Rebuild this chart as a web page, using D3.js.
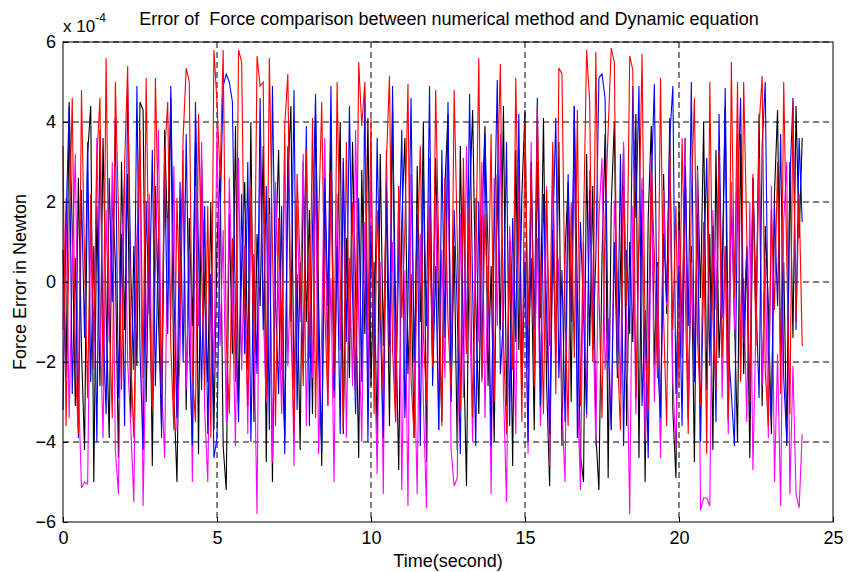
<!DOCTYPE html>
<html>
<head>
<meta charset="utf-8">
<script src="https://cdn.jsdelivr.net/npm/d3@7/dist/d3.min.js"></script>
<style>
  body { margin: 0; background: #fff; }
  text { font-family: "Liberation Sans", Arial, sans-serif; fill: #000; }
</style>
</head>
<body>
<div id="chart"></div>
<script>
// data, values in units of 10^-4 N, sampled every 0.1 s from 0 to 24 s
const timeStep = 0.1;
const redSeries = [
  3.4, -3.6, 1.2, 4.6, -2.1, -3.8, 4.8, 0.6, -2.9, 2.2,
  -1.5, 3.1, 4.6, -2.6, 5.6, -0.8, -3.4, 5.0, 1.8, -2.7,
  2.9, 5.4, -1.9, -3.9, 0.7, 3.8, -2.4, 5.1, -0.5, -3.2,
  5.1, 1.4, -2.8, 3.2, 4.5, -1.6, -3.7, 2.1, -0.9, 3.6,
  5.35, 5.0, -2.2, -3.5, 4.2, 0.3, -2.7, 1.9, -3.9, 5.8,
  4.5, 2.6, 5.8, -1.4, -3.3, 1.1, -2.5, 5.8, 5.5, -0.6,
  -3.1, 2.4, -1.8, 5.65, 4.9, 5.0, -2.9, 5.6, 0.9, -3.6,
  1.6, -2.2, 3.9, 5.2, -1.1, -3.8, 2.7, 0.4, -2.6, 3.3,
  -1.9, 4.1, -3.4, 1.5, 4.5, -0.7, -3.1, 2.8, -2.3, 5.0,
  0.2, -3.7, 3.5, -1.5, 2.0, -2.9, 5.5, 3.9, 5.0, -1.2,
  4.1, -3.3, 1.8, -0.4, -2.8, 3.0, 5.15, -1.7, -3.5, 2.4,
  -0.9, 1.3, 4.95, -2.4, -3.9, 0.5, 3.4, -1.3, -3.0, 1.9,
  -2.1, 4.8, 0.8, -3.6, 2.6, -1.0, -2.7, 4.8, 1.1, -3.2,
  3.1, -1.8, 2.2, -3.4, 0.4, 5.6, -2.5, 1.7, -0.8, 3.7,
  -3.0, 2.5, 5.45, -1.4, -3.8, 1.0, -2.2, 5.1, 0.6, -3.5,
  4.0, -1.1, 2.9, -2.6, 4.4, 0.1, -3.3, 2.3, -1.6, 3.5,
  -2.8, 5.35, 5.2, -0.7, -3.6, 2.0, -1.9, 4.3, -3.1, 1.4,
  5.8, 4.5, -2.0, 5.75, -0.3, -3.4, 1.6, 3.8, 5.85, 5.5,
  -1.8, -3.7, 2.4, -0.6, 5.65, 5.3, -2.9, 1.3, 5.7, -1.5,
  -3.2, 2.8, 0.7, -2.4, 5.1, -0.9, -3.6, 3.2, -1.2, 1.9,
  -2.6, 3.6, -0.2, -3.8, 2.1, 4.6, -1.4, -3.1, 1.5, -4.3,
  5.0, -0.8, -2.7, 3.3, -1.9, 0.9, -3.4, 5.5, -0.4, 5.0,
  -2.5, 5.0, 1.2, -3.0, 2.7, -1.6, 3.9, 5.15, -2.2, -3.6,
  1.8, -0.7, 3.0, -2.8, 5.0, 0.5, -3.3, 4.5, -1.0, 2.2,
  -1.6
];
const blueSeries = [
  -3.2, 1.5, 4.4, -2.8, 0.6, -3.9, 2.3, -1.4, 3.5, -2.5,
  0.9, -4.0, 3.8, -1.1, -3.3, 2.6, -0.5, 4.1, -2.9, 1.2,
  -3.6, 4.9, 0.3, -2.2, 4.9, -1.7, -4.2, 2.0, -0.8, 3.3,
  -2.6, 1.1, -3.9, 2.8, -1.3, 4.9, -0.2, -3.4, 2.5, -2.0,
  3.7, -1.5, -4.1, 4.5, 0.8, -2.7, 1.9, -3.8, 0.2, -4.4,
  -3.9, 1.6, 4.9, 5.2, 5.0, 4.5, -0.9, -3.5, 2.2, -1.8,
  3.0, -4.0, 0.7, -2.3, 4.6, -1.2, 2.4, -3.7, 4.9, -0.4,
  -2.8, 1.9, -4.3, 3.4, -1.0, 4.8, -3.2, 0.5, -2.1, 3.9,
  -3.6, 1.3, 4.7, -1.9, -4.2, 2.6, -0.6, 4.9, -2.7, 0.9,
  -3.8, 3.1, -1.5, 4.4, -0.3, -3.3, 2.1, -2.5, 4.8, -4.0,
  1.4, -2.2, 3.6, -0.8, -3.9, 2.5, -1.6, 4.9, -2.9, 0.6,
  3.8, -3.4, -0.5, 4.6, -2.0, 1.7, -4.1, 2.9, -1.1, 4.9,
  -2.6, 0.4, -3.7, 3.3, -1.4, 4.5, -3.0, 1.8, -0.7, -4.3,
  2.4, -1.8, 4.7, -0.2, -4.1, 2.0, -2.4, 3.7, 0.8, -4.1,
  1.2, 5.05, -2.3, -0.9, 3.5, -3.6, 1.6, -1.5, 4.2, -2.7,
  0.5, -4.0, 3.0, -1.2, 4.6, -3.1, 2.2, -0.6, -3.8, 1.1,
  4.1, -2.4, 0.3, -3.5, 2.7, -1.0, 4.4, -3.9, 1.5, -0.8,
  -3.3, 2.3, -1.7, 0.6, 5.1, 5.2, 4.6, -1.6, -3.7, 1.0,
  -2.2, 3.2, -4.1, 0.8, -1.3, 4.9, 1.6, 4.9, -3.1, -0.7,
  -4.4, 2.4, 4.95, -1.9, -3.4, 1.2, -0.5, 3.6, 4.9, -2.8,
  0.4, -3.6, 2.9, -1.1, 5.0, -2.5, 1.7, -4.0, 0.3, 3.1,
  -2.1, 1.4, -3.5, 4.2, -0.9, 4.85, -1.6, -2.8, -4.1, 2.0,
  4.6, -1.4, 0.9, -3.3, 2.6, -0.4, -2.9, 3.4, 5.0, -1.8,
  -3.5, 1.9, -0.6, 3.7, -2.4, -4.0, 2.5, 4.6, -1.2, 3.6,
  1.5
];
const blackSeries = [
  0.8, -2.4, 4.5, 1.3, -3.1, 2.6, -1.7, -4.2, 3.2, 4.4,
  -5.0, 1.9, -2.6, 3.6, -0.7, -3.9, 2.2, 0.5, -4.4, 3.0,
  -1.2, 2.7, -3.4, 0.9, -2.1, 4.5, 4.3, -3.0, 1.4, -4.6,
  2.4, -0.9, -3.6, 3.8, 1.0, 4.6, -2.8, -5.0, 0.3, 2.9,
  -3.2, 1.6, -1.1, 3.5, -4.3, 3.1, -0.4, -2.5, 2.0, -3.7,
  0.9, 2.8, -4.1, -5.2, 1.7, -1.8, 3.9, -3.0, 0.4, 2.5,
  -2.2, 4.0, -3.5, 1.2, -0.6, 3.4, -4.5, 2.1, -5.0, 0.7,
  3.3, -1.5, -3.9, 2.6, 4.4, -2.7, 0.2, -4.2, 3.0, -1.0,
  1.8, -3.3, 4.2, -0.5, -4.6, 2.3, -1.9, 3.7, -2.9, 0.6,
  4.0, -3.8, 1.1, -2.4, 3.5, -0.2, -4.4, 2.8, -1.3, 4.1,
  -2.6, 0.5, -4.0, 3.2, -1.6, 2.1, -3.6, 4.3, -0.8, -4.7,
  1.5, 3.6, -2.3, 0.2, -3.9, 2.9, -1.0, 4.0, -4.5, 1.8,
  -2.0, 3.1, -0.7, -3.5, 2.4, 4.2, -2.8, 0.9, -4.2, 3.4,
  -1.4, -5.1, 2.0, 4.3, -0.5, -3.3, 1.6, 3.9, -2.6, 0.4,
  -4.0, 2.7, -1.2, 4.4, -3.1, 0.8, -4.6, 3.3, -1.7, 2.2,
  4.3, -2.2, 0.6, -3.7, 3.0, -0.9, 4.1, -2.5, -5.1, 1.3,
  -1.8, 3.5, -4.1, 0.7, 2.5, -3.0, 4.4, -0.3, -4.3, -5.0,
  3.2, -1.6, 2.4, -3.8, -5.2, 0.6, 3.7, -4.9, 1.9, 4.0,
  -2.4, 0.3, 3.4, -3.6, 1.0, -1.5, 4.2, -4.4, 2.3, -5.0,
  1.6, 3.9, -2.1, 0.5, -3.9, 2.7, -0.8, 4.1, -3.2, -4.9,
  2.0, -1.3, 3.6, -3.4, 0.9, -4.5, 2.9, -0.4, 4.0, -2.7,
  1.2, -4.2, 3.3, -1.9, 0.2, 4.4, -3.5, 2.1, -0.9, -4.0,
  3.7, -2.3, 0.8, -4.4, 2.6, -1.1, 4.2, -3.1, 1.4, -0.6,
  -3.8, 2.2, 4.3, -2.0, 0.5, -4.1, 3.0, -1.4, 4.4, 1.1,
  3.6
];
const magentaSeries = [
  -1.2, 2.1, -3.4, 0.5, 3.2, -2.6, -5.15, -5.0, -5.05, 1.4,
  -2.2, 3.6, -0.8, -3.9, 1.8, -1.5, 3.0, -4.2, -5.3, 0.6,
  2.7, -2.0, -3.6, -5.5, 1.1, 3.4, -5.6, -1.4, 2.2, -3.1,
  0.3, 3.8, -2.5, -4.4, 1.6, -0.9, 2.9, -3.7, -1.8, 3.3,
  -2.7, 0.8, -5.0, 2.4, -1.1, 3.5, -3.2, -5.0, 0.2, -2.3,
  3.9, -1.6, 1.3, -3.5, 2.6, -0.4, -4.1, 3.1, -2.2, 0.9,
  -3.8, 2.0, -1.3, -5.8, 3.4, -0.7, -3.0, 1.7, -4.5, 2.5,
  -0.5, -3.3, 3.7, -2.1, 0.4, -4.6, 1.9, -1.0, 3.2, -3.6,
  0.7, -2.4, 2.8, -4.3, -1.2, 3.6, -3.1, 0.1, -5.0, 2.2,
  -1.7, 3.0, -3.9, 0.6, -2.6, 3.8, -0.9, -4.0, 1.5, -2.8,
  2.9, -1.4, -4.8, 0.5, -5.3, 3.3, -2.0, 1.0, -3.5, 2.4,
  -5.2, 0.3, -5.6, 2.7, -1.8, -5.3, 1.2, -3.0, -5.65, 3.1,
  -1.0, 2.2, -3.7, 0.8, -2.4, 3.6, -4.2, -5.1, -4.9, 1.7,
  -2.9, 3.4, -0.6, -4.0, 2.1, -1.5, 3.0, -3.4, 0.4, -5.3,
  2.6, -1.1, 3.7, -2.7, -5.5, 1.4, -0.3, -3.8, 2.9, -1.9,
  0.8, -4.3, 3.5, -2.3, 1.1, -3.6, -0.7, 2.4, -4.6, 3.2,
  -1.5, 0.6, -3.1, -5.0, 2.3, -0.8, 3.7, -2.6, -5.2, 1.0,
  -3.4, 2.8, -0.5, -4.1, 1.6, 3.1, -2.2, -0.9, -3.7, 2.0,
  0.2, -2.8, 3.5, -1.3, -5.8, 1.9, -3.3, 0.7, 2.6, -4.0,
  -1.6, 3.2, -3.0, 0.4, -4.4, 2.3, -0.6, 3.4, -2.5, -4.2,
  1.3, -1.9, 3.6, -3.2, 0.5, -2.1, 2.8, -5.7, -5.4, -5.4,
  -5.6, 1.8, -0.7, 3.3, -2.9, 0.9, -3.8, 2.5, -1.2, 3.7,
  -2.3, 0.1, -3.5, 2.0, -4.7, -1.0, 3.1, -2.6, 0.6, -3.9,
  2.4, -5.0, -1.8, -5.6, 1.5, 3.0, -5.3, -2.1, -5.3, -5.65,
  -3.8
];
const xTicks = [0, 5, 10, 15, 20, 25];
const yTicks = [-6, -4, -2, 0, 2, 4, 6];

// series drawn in this order, later ones on top
const seriesList = [
  { values: blackSeries, color: '#000000' },
  { values: magentaSeries, color: '#ff00ff' },
  { values: blueSeries, color: '#0000ff' },
  { values: redSeries, color: '#ff0000' }
];

// Measures
const width = 851;
const height = 572;
const margin = { left: 63, right: 18, top: 42, bottom: 50 };
const gridDash = '6,4';
const fontSize = '18px';

const svg = d3.select('#chart').append('svg')
  .attr('width', width)
  .attr('height', height);

const x = d3.scaleLinear().domain([0, 25]).range([margin.left, width - margin.right]);
const y = d3.scaleLinear().domain([-6, 6]).range([height - margin.bottom, margin.top]);

// grid
svg.append('g').selectAll('line')
  .data(xTicks.slice(1, -1))
  .join('line')
  .attr('x1', d => x(d)).attr('x2', d => x(d))
  .attr('y1', y(6)).attr('y2', y(-6))
  .attr('stroke', '#000')
  .attr('stroke-width', 1)
  .attr('stroke-dasharray', gridDash);

svg.append('g').selectAll('line')
  .data(yTicks.slice(1))
  .join('line')
  .attr('x1', x(0)).attr('x2', x(25))
  .attr('y1', d => y(d)).attr('y2', d => y(d))
  .attr('stroke', '#000')
  .attr('stroke-width', 1)
  .attr('stroke-dasharray', gridDash);

// lines
const line = d3.line()
  .x((d, i) => x(i * timeStep))
  .y(d => y(d));

seriesList.forEach(s => {
  svg.append('path')
    .datum(s.values)
    .attr('fill', 'none')
    .attr('stroke', s.color)
    .attr('stroke-width', 1.1)
    .attr('d', line);
});

// axes box
svg.append('rect')
  .attr('x', x(0)).attr('y', y(6))
  .attr('width', x(25) - x(0))
  .attr('height', y(-6) - y(6))
  .attr('fill', 'none')
  .attr('stroke', '#000')
  .attr('stroke-width', 1);

const xAxis = svg.append('g')
  .attr('transform', `translate(0,${y(-6)})`)
  .call(d3.axisBottom(x).tickValues(xTicks).tickSize(-5).tickPadding(9).tickFormat(d3.format('d')));
const yAxis = svg.append('g')
  .attr('transform', `translate(${x(0)},0)`)
  .call(d3.axisLeft(y).tickValues(yTicks).tickSize(-5).tickPadding(7).tickFormat(d3.format('d')));

[xAxis, yAxis].forEach(a => {
  a.select('.domain').remove();
  a.selectAll('text')
    .style('font-family', '"Liberation Sans", Arial, sans-serif')
    .style('font-size', fontSize)
    .attr('fill', '#000');
});

// exponent label
const expo = svg.append('text')
  .attr('x', x(0))
  .attr('y', 32)
  .style('font-size', '17px');
expo.append('tspan').text('x 10');
expo.append('tspan').attr('dy', -10).style('font-size', '12px').text('-4');

// title
svg.append('text')
  .attr('x', 449)
  .attr('y', 25)
  .attr('text-anchor', 'middle')
  .style('font-size', fontSize)
  .style('white-space', 'pre')
  .text('Error of  Force comparison between numerical method and Dynamic equation');

// axis labels
svg.append('text')
  .attr('x', (x(0) + x(25)) / 2)
  .attr('y', 567)
  .attr('text-anchor', 'middle')
  .style('font-size', fontSize)
  .text('Time(second)');

svg.append('text')
  .attr('transform', `translate(26,${(y(6) + y(-6)) / 2}) rotate(-90)`)
  .attr('text-anchor', 'middle')
  .style('font-size', fontSize)
  .text('Force Error in Newton');
</script>
</body>
</html>
